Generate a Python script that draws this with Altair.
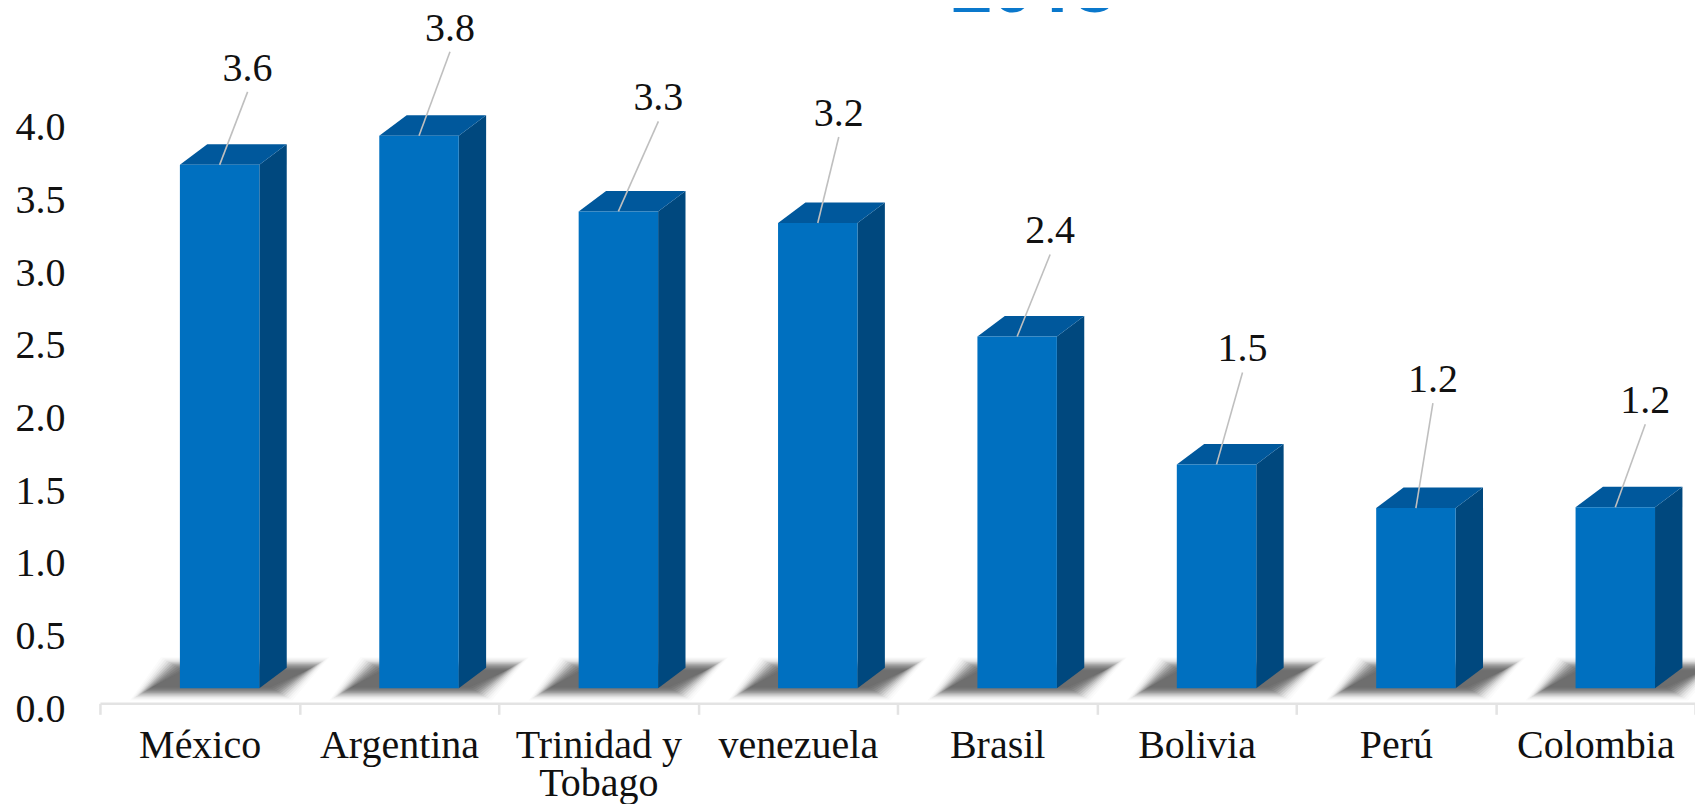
import json
import altair as alt
import pandas as pd

categories = ["México", "Argentina", ["Trinidad y", "Tobago"], "venezuela", "Brasil", "Bolivia", "Perú", "Colombia"]
values = [3.6, 3.8, 3.28, 3.2, 2.42, 1.54, 1.24, 1.245]
y_ticks = [0.0, 0.5, 1.0, 1.5, 2.0, 2.5, 3.0, 3.5, 4.0]
title_text = "2018"
# callout displacement from the bar's top edge, in pixels
callout_dx = [28, 31, 40, 21, 33, 26, 17, 30]
callout_dy = [-96, -107, -113, -109, -105, -115, -128, -106]

PLOT_W, PLOT_H = 1596, 695.5
CAT_PX = PLOT_W / 8
UNIT_PX = 145.5
Y_MIN = -15.0 / UNIT_PX
Y_MAX = Y_MIN + PLOT_H / UNIT_PX
ux = lambda px: px / CAT_PX
uy = lambda px: px / UNIT_PX
BAR_W, BAR_L, DX, DY = ux(79.5), ux(80), ux(27.4), uy(20.5)

front, side, top, shadow, leaders, labels = [], [], [], [], [], []
blur_grow = [12, 10, 8, 6, 4, 2, 0, -2, -4, -6, -8, -10]
blur_alpha = [0.02, 0.03, 0.05, 0.07, 0.10, 0.12, 0.14, 0.14, 0.14, 0.12, 0.10, 0.08]
for i, v in enumerate(values):
    xl = i + BAR_L
    xr = xl + BAR_W
    front.append(dict(x=xl, x2=xr, y=v, y2=0))
    for x, y, y2 in [(xr, v, 0), (xr + DX, v + DY, DY)]:
        side.append(dict(b=f"s{i}", x=x, y=y, y2=y2))
    for x, y, y2 in [(xl, v, v), (xl + DX, v + DY, v), (xr, v + DY, v), (xr + DX, v + DY, v + DY)]:
        top.append(dict(b=f"t{i}", x=x, y=y, y2=y2))
    # soft floor shadow: nested parallelograms standing in for a blur
    for level, (grow, alpha) in enumerate(zip(blur_grow, blur_alpha)):
        bot = uy(-5 - grow * 0.6)
        tp = uy(24 + grow * 0.6)
        a = xl + ux(-38 - grow)
        b = xl + ux(-7 - grow)
        c = xr + ux(21 + grow)
        d = xr + ux(58 + grow)
        for x, y, y2 in [(a, bot, bot), (b, tp, bot), (c, tp, bot), (d, tp, tp)]:
            shadow.append(dict(b=f"{i}-{level:02d}", x=x, y=y, y2=y2, o=alpha))
    cx = (xl + xr) / 2
    ldx, ldy = callout_dx[i], callout_dy[i]
    leaders.append(dict(b=i, x=cx, y=v))
    leaders.append(dict(b=i, x=cx + ux(ldx), y=v - uy(ldy + 23)))
    labels.append(dict(x=cx + ux(ldx), y=v - uy(ldy), v=v))

xs = alt.Scale(domain=[0, 8], nice=False, zero=False)
ys = alt.Scale(domain=[Y_MIN, Y_MAX], nice=False, zero=False)
X = lambda: alt.X("x:Q", scale=xs, title=None)
Y = lambda: alt.Y("y:Q", scale=ys, title=None)
FONT = "Liberation Serif"

label_expr = "(" + json.dumps(categories, ensure_ascii=False) + ")[datum.value] || ''"

axis_x = alt.Axis(
    values=list(range(9)), labelExpr=label_expr, labelOffset=CAT_PX / 2, labelFont=FONT,
    labelFontSize=40, labelColor="#111111", labelPadding=11, labelLineHeight=38,
    labelOverlap=False, labelBound=False, labelFlush=False, grid=False,
    domainColor="#e3e3e3", domainWidth=2.5, tickColor="#e3e3e3", tickWidth=2.5, tickSize=11,
)
axis_y = alt.Axis(
    values=y_ticks, format=".1f", labelOffset=21, labelFont=FONT, labelFontSize=40,
    labelColor="#111111", labelPadding=35, labelOverlap=False, labelBound=False,
    labelFlush=False, grid=False, domain=False, ticks=False, tickSize=0,
)

def area(rows, **kw):
    return alt.Chart(pd.DataFrame(rows)).mark_area(**kw).encode(
        x=X(), y=Y(), y2="y2:Q", detail="b:N"
    )

axes_layer = alt.Chart(pd.DataFrame({"x": [0, 8], "y": [0, 0]})).mark_point(opacity=0).encode(
    x=alt.X("x:Q", scale=xs, title=None, axis=axis_x),
    y=alt.Y("y:Q", scale=ys, title=None, axis=axis_y),
)
shadow_layer = area(shadow, color="#333333").encode(opacity=alt.Opacity("o:Q", scale=None))
side_layer = area(side, color="#00487E")
top_layer = area(top, color="#00589C")
front_layer = alt.Chart(pd.DataFrame(front)).mark_rect(color="#0070C0").encode(
    x=X(), x2="x2:Q", y=Y(), y2="y2:Q"
)
leader_layer = alt.Chart(pd.DataFrame(leaders)).mark_line(color="#bfbfbf", strokeWidth=1.6).encode(
    x=X(), y=Y(), detail="b:N"
)
label_layer = alt.Chart(pd.DataFrame(labels)).mark_text(
    font=FONT, fontSize=40, color="#111111", align="center", baseline="middle"
).encode(x=X(), y=Y(), text=alt.Text("v:Q", format=".1f"))
title_layer = alt.Chart(pd.DataFrame({"x": [4.68], "y": [Y_MAX - uy(4)], "t": [title_text]})).mark_text(
    font="Open Sans", fontSize=72, fontWeight="bold", color="#0A78CC", align="center",
    baseline="alphabetic"
).encode(x=X(), y=Y(), text="t:N")

chart = alt.layer(
    axes_layer, shadow_layer, side_layer, top_layer, front_layer, leader_layer, label_layer, title_layer
).properties(
    width=PLOT_W, height=PLOT_H,
    autosize=alt.AutoSizeParams(type="none"),
    padding={"left": 92, "top": 0, "right": 0, "bottom": 100},
    background="white",
).configure_view(stroke=None)

chart.save("out.html", embed_options={"renderer": "svg", "actions": False})
